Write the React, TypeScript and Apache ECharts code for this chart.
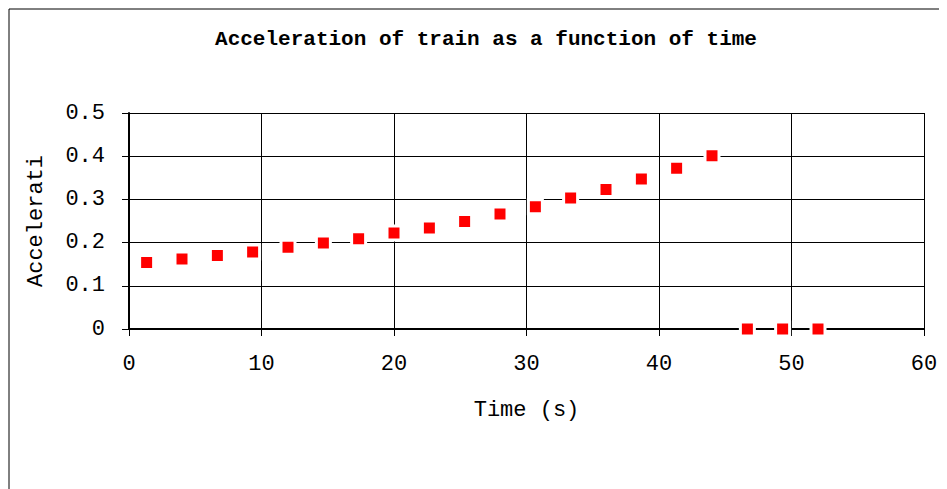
import React, { useEffect, useRef } from "react";
import * as echarts from "echarts";

const titleText = "Acceleration of train as a function of time";
const xAxisName = "Time (s)";
const yAxisName = "Accelerati";
const timeValues = [1.33, 4, 6.67, 9.33, 12, 14.67, 17.33, 20, 22.67, 25.33, 28, 30.67, 33.33, 36, 38.67, 41.33, 44, 46.67, 49.33, 52];
const accelValues = [0.154, 0.162, 0.17, 0.178, 0.189, 0.199, 0.209, 0.222, 0.234, 0.249, 0.266, 0.283, 0.303, 0.323, 0.347, 0.372, 0.401, 0, 0, 0];

const FONT = '"Liberation Mono", "DejaVu Sans Mono", monospace';

export default function App() {
  const ref = useRef<HTMLDivElement>(null);
  useEffect(() => {
    if (!ref.current) return;
    const chart = echarts.init(ref.current, undefined, { renderer: "svg" });
    const data = timeValues.map((t, i) => [t, accelValues[i]]);
    chart.setOption({
      animation: false,
      backgroundColor: "#fff",
      graphic: [
        {
          type: "rect",
          shape: { x: 1, y: 1, width: 2000, height: 2000 },
          style: { fill: "none", stroke: "#000", lineWidth: 1 },
          silent: true,
        },
        {
          type: "text",
          x: 478,
          y: 21,
          style: {
            text: titleText,
            fontFamily: FONT,
            fontSize: 21,
            fontWeight: "bold",
            fill: "#000",
            textAlign: "center",
            textVerticalAlign: "top",
          },
        },
      ],
      grid: { left: 121, top: 105, right: 23, bottom: 160, containLabel: false },
      xAxis: {
        type: "value",
        min: 0,
        max: 60,
        interval: 10,
        name: xAxisName,
        nameLocation: "middle",
        nameGap: 70,
        nameTextStyle: { fontFamily: FONT, fontSize: 22, color: "#000" },
        axisLine: { show: true, onZero: false, lineStyle: { color: "#000", width: 2 } },
        axisTick: { show: true, inside: false, length: 7, lineStyle: { color: "#000", width: 1 } },
        axisLabel: { fontFamily: FONT, fontSize: 22, color: "#000", margin: 24 },
        splitLine: { show: true, lineStyle: { color: "#000", width: 1 } },
      },
      yAxis: {
        type: "value",
        min: 0,
        max: 0.5,
        interval: 0.1,
        name: yAxisName,
        nameLocation: "middle",
        nameRotate: 90,
        nameGap: 82,
        nameTextStyle: { fontFamily: FONT, fontSize: 22, color: "#000" },
        axisLine: { show: true, onZero: false, lineStyle: { color: "#000", width: 2 } },
        axisTick: { show: true, inside: false, length: 7, lineStyle: { color: "#000", width: 1 } },
        axisLabel: {
          fontFamily: FONT,
          fontSize: 22,
          color: "#000",
          margin: 24,
          formatter: (v: number) => (v === 0 ? "0" : String(Math.round(v * 10) / 10)),
        },
        splitLine: { show: true, lineStyle: { color: "#000", width: 1 } },
      },
      series: [
        {
          type: "scatter",
          data,
          symbol: "rect",
          symbolSize: 14,
          itemStyle: { color: "#ff0000", borderColor: "#ffffff", borderWidth: 3, opacity: 1 },
          clip: false,
          z: 5,
        },
      ],
    });
    return () => chart.dispose();
  }, []);
  return <div ref={ref} style={{ width: 939, height: 481, overflow: "hidden" }} />;
}
